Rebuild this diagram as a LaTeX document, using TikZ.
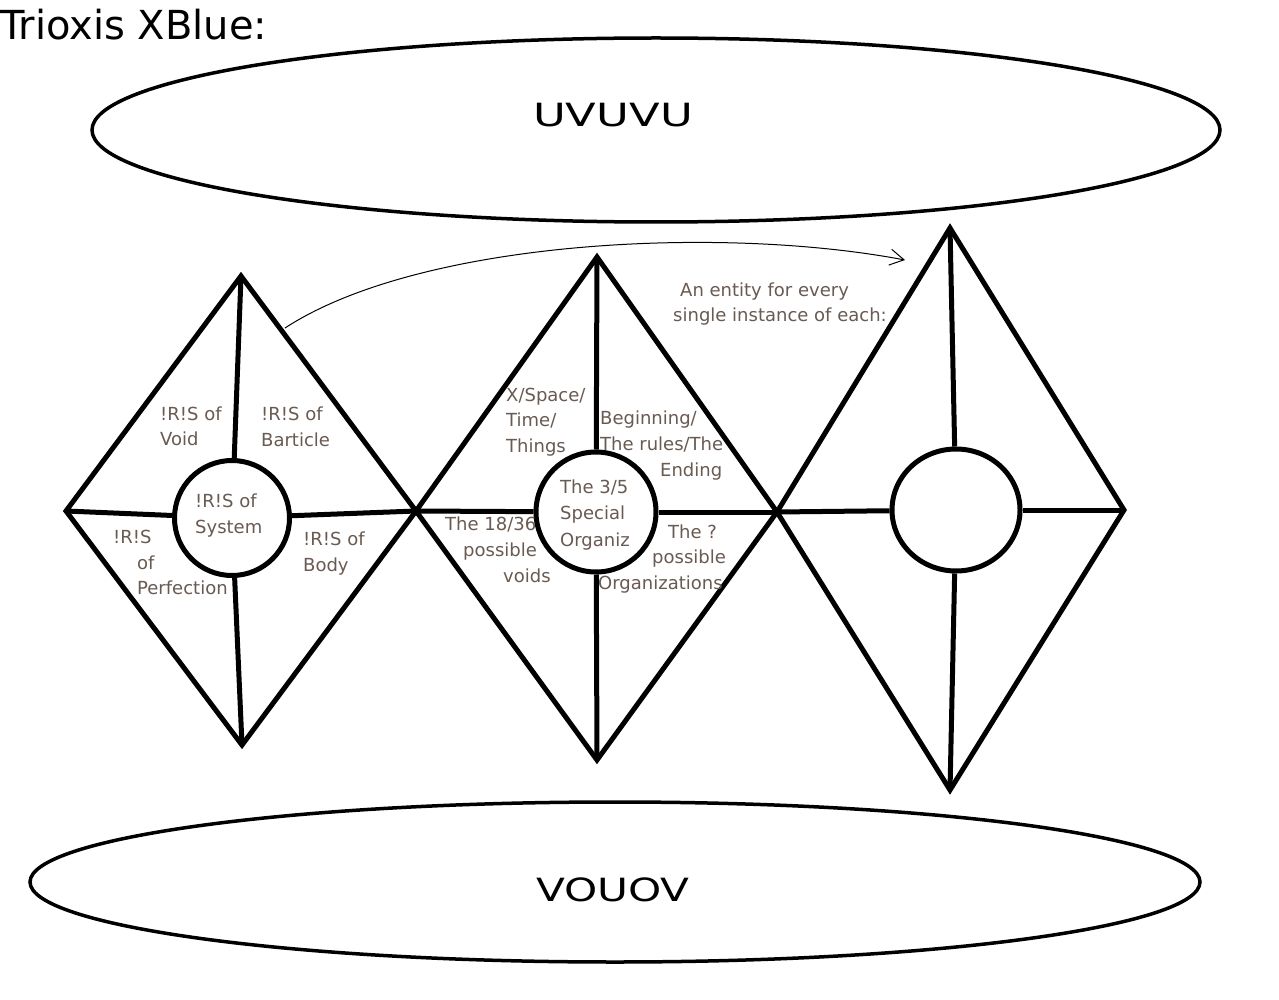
\documentclass[tikz,border=0pt]{standalone}
\usepackage{fontspec}
\setmainfont{DejaVu Sans}
\usetikzlibrary{shapes.geometric,arrows.meta}
\definecolor{lab}{RGB}{105,90,82}
\begin{document}
\begin{tikzpicture}[x=1pt,y=-1pt,
  edge/.style={line width=5pt, line join=miter},
  ring/.style={circle, draw, line width=5pt, inner sep=0pt},
  oval/.style={ellipse, draw, line width=3.5pt, inner sep=0pt},
  lbl/.style={text=lab, font=\fontsize{18}{21}\selectfont, inner sep=0pt, anchor=base west},
  big/.style={font=\fontsize{32}{36}\selectfont, inner sep=0pt},
]
\useasboundingbox (0,0) rectangle (1279,1000);
\fill[white] (0,0) rectangle (1279,1000);

% title
\node[font=\fontsize{40}{44}\selectfont, inner sep=0pt, anchor=base west] (title) at (0,40) {Trioxis XBlue:};

% ellipses
\node[oval, minimum width=1128pt, minimum height=184pt] (top) at (656,130) {};
\node[big, xscale=1.4] (toptext) at (613,115) {UVUVU};
\node[oval, minimum width=1170pt, minimum height=160pt] (bot) at (615,882) {};
\node[big, xscale=1.32] (bottext) at (613,890) {VOUOV};

% diamond 1
\coordinate (d1t) at (241,276);
\coordinate (d1b) at (242,745);
\coordinate (d1l) at (66,511);
\coordinate (d1r) at (416,511);
% diamond 2
\coordinate (d2t) at (597,257);
\coordinate (d2b) at (597,760);
\coordinate (d2r) at (777,512);
% diamond 3
\coordinate (d3t) at (950,228);
\coordinate (d3b) at (950,790);
\coordinate (d3r) at (1124,510);

\draw[edge] (d1t) -- (d1r) -- (d1b) -- (d1l) -- cycle;
\draw[edge] (d2t) -- (d2r) -- (d2b) -- (d1r) -- cycle;
\draw[edge] (d3t) -- (d3r) -- (d3b) -- (d2r) -- cycle;

\node[ring, minimum size=115pt] (c1) at (232,518) {};
\node[ring, minimum size=120pt] (c2) at (596,512) {};
\node[ellipse, draw, line width=5pt, inner sep=0pt, minimum width=128pt, minimum height=122pt] (c3) at (956,510) {};

\draw[edge] (d1t) -- (c1);
\draw[edge] (d1b) -- (c1);
\draw[edge] (d1l) -- (c1);
\draw[edge] (d1r) -- (c1);
\draw[edge] (d2t) -- (c2);
\draw[edge] (d2b) -- (c2);
\draw[edge] (d1r) -- (c2);
\draw[edge] (d2r) -- (c2);
\draw[edge] (d3t) -- (c3);
\draw[edge] (d3b) -- (c3);
\draw[edge] (d2r) -- (c3);
\draw[edge] (d3r) -- (c3);

% arrow
\coordinate (as) at (285,328);
\coordinate (ae) at (905,260);
\draw[line width=1pt, -{Straight Barb[length=14pt,width=16pt]}] (as) .. controls (420,240) and (720,225) .. (ae);

% diamond 1 labels
\node[lbl] (v1) at (160,420) {!R!S of};
\node[lbl] (v2) at (160,445) {Void};
\node[lbl] (b1) at (261,420) {!R!S of};
\node[lbl] (b2) at (261,446) {Barticle};
\node[lbl] (s1) at (195,507) {!R!S of};
\node[lbl] (s2) at (195,533) {System};
\node[lbl] (o1) at (303,545) {!R!S of};
\node[lbl] (o2) at (303,571) {Body};
\node[lbl] (p1) at (113,543) {!R!S};
\node[lbl] (p2) at (137,569) {of};
\node[lbl] (p3) at (137,594) {Perfection};

% diamond 2 labels
\node[lbl] (x1) at (506,401) {X/Space/};
\node[lbl] (x2) at (506,426) {Time/};
\node[lbl] (x3) at (506,452) {Things};
\node[lbl] (g1) at (600,424) {Beginning/};
\node[lbl] (g2) at (600,450) {The rules/The};
\node[lbl] (g3) at (660,476) {Ending};
\node[lbl] (t1) at (560,493) {The 3/5};
\node[lbl] (t2) at (560,519) {Special};
\node[lbl] (t3) at (560,546) {Organiz};
\node[lbl] (e1) at (445,530) {The 18/36};
\node[lbl] (e2) at (463,556) {possible};
\node[lbl] (e3) at (503,582) {voids};
\node[lbl] (q1) at (668,538) {The ?};
\node[lbl] (q2) at (652,563) {possible};
\node[lbl] (q3) at (598,589) {Organizations};

% entity text
\node[lbl] (n1) at (680,296) {An entity for every};
\node[lbl] (n2) at (673,321) {single instance of each:};
\end{tikzpicture}
\end{document}
